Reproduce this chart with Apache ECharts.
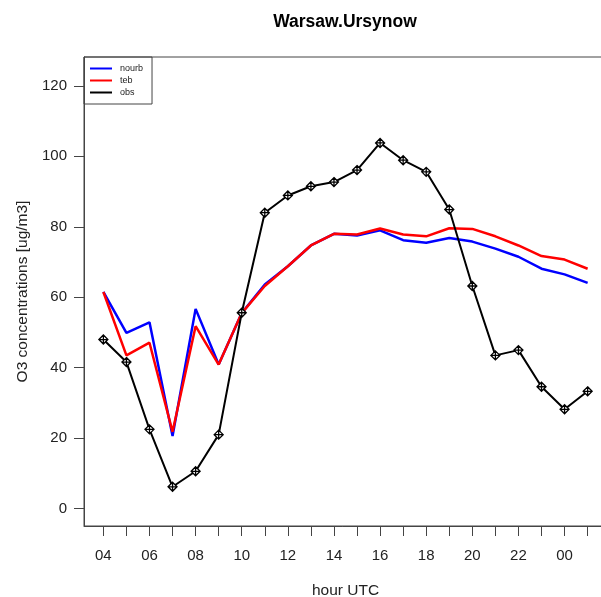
<!DOCTYPE html>
<html>
<head>
<meta charset="utf-8">
<script src="https://cdn.jsdelivr.net/npm/echarts@6/dist/echarts.min.js"></script>
<style>
  html, body { margin: 0; padding: 0; background: #fff; }
  #chart { width: 601px; height: 597px; }
</style>
</head>
<body>
<div id="chart"></div>
<script>
// hours UTC, one point per hour
const hours = ['04', '05', '06', '07', '08', '09', '10', '11', '12', '13', '14',
  '15', '16', '17', '18', '19', '20', '21', '22', '23', '00', '01']
const nourb = [61.5, 49.9, 52.9, 20.6, 56.7, 40.9, 55.5, 63.6, 68.8, 74.7, 78.0,
  77.5, 79.0, 76.2, 75.5, 76.8, 75.8, 73.8, 71.5, 68.1, 66.5, 64.1]
const teb = [61.5, 43.5, 47.1, 21.8, 51.8, 40.9, 55.5, 63.2, 68.8, 74.7, 78.0,
  77.8, 79.5, 77.8, 77.3, 79.6, 79.4, 77.3, 74.7, 71.7, 70.7, 68.1]
const obs = [48.0, 41.6, 22.5, 6.2, 10.6, 21.0, 55.6, 84.0, 88.9, 91.5, 92.7,
  96.1, 103.8, 98.9, 95.6, 84.9, 63.2, 43.5, 45.0, 34.6, 28.2, 33.3]
const yTicks = [0, 20, 40, 60, 80, 100, 120]

const chart = echarts.init(document.getElementById('chart'))
const font = 'Liberation Sans, Arial, sans-serif'
const pairs = arr => arr.map((v, i) => [i, v])
const lineIcon = 'path://M0,4L22,4L22,6L0,6Z'

chart.setOption({
  backgroundColor: '#fff',
  animation: false,
  textStyle: { fontFamily: font },
  title: {
    text: 'Warsaw.Ursynow',
    left: 340,
    textAlign: 'center',
    top: 8,
    textStyle: { fontSize: 17.5, fontWeight: 'bold', color: '#000', fontFamily: font }
  },
  legend: {
    orient: 'vertical',
    left: 84,
    top: 57,
    padding: [7, 9, 7, 6],
    itemGap: 3,
    itemWidth: 22,
    itemHeight: 9,
    borderColor: '#444',
    borderWidth: 1,
    textStyle: { fontSize: 9, color: '#222', padding: [0, 0, 0, 3] },
    data: [
      { name: 'nourb', icon: lineIcon },
      { name: 'teb', icon: lineIcon },
      { name: 'obs', icon: lineIcon, itemStyle: { color: '#000', borderWidth: 0 } }
    ]
  },
  grid: {
    left: 84,
    top: 57,
    width: 523,
    height: 469,
    outerBoundsMode: 'none',
    show: true,
    borderColor: '#444',
    borderWidth: 1
  },
  xAxis: {
    type: 'value',
    min: -0.84,
    max: 21.84,
    name: 'hour UTC',
    nameLocation: 'middle',
    nameGap: 57,
    nameTextStyle: { fontSize: 15.5, color: '#222' },
    splitLine: { show: false },
    axisLine: { show: true, onZero: false, lineStyle: { color: '#444' } },
    axisTick: {
      show: true,
      length: 10,
      lineStyle: { color: '#444' },
      customValues: hours.map((h, i) => i)
    },
    axisLabel: {
      fontSize: 15,
      color: '#222',
      margin: 22,
      customValues: hours.map((h, i) => i).filter(i => i % 2 === 0),
      formatter: v => hours[Math.round(v)]
    }
  },
  yAxis: {
    type: 'value',
    min: -4.93,
    max: 128.2,
    name: 'O3 concentrations [ug/m3]',
    nameLocation: 'middle',
    nameGap: 53,
    nameTextStyle: { fontSize: 15.5, color: '#222' },
    splitLine: { show: false },
    axisLine: { show: true, onZero: false, lineStyle: { color: '#444' } },
    axisTick: {
      show: true,
      length: 10,
      lineStyle: { color: '#444' },
      customValues: yTicks
    },
    axisLabel: {
      fontSize: 15,
      color: '#222',
      margin: 17,
      customValues: yTicks
    }
  },
  series: [
    {
      name: 'nourb',
      type: 'line',
      data: pairs(nourb),
      showSymbol: false,
      symbol: 'none',
      color: '#0000ff',
      lineStyle: { color: '#0000ff', width: 2.5 }
    },
    {
      name: 'teb',
      type: 'line',
      data: pairs(teb),
      showSymbol: false,
      symbol: 'none',
      color: '#ff0000',
      lineStyle: { color: '#ff0000', width: 2.5 }
    },
    {
      name: 'obs',
      type: 'line',
      data: pairs(obs),
      symbol: 'path://M0,-1L1,0L0,1L-1,0Z M0,-1L0,1 M-1,0L1,0',
      symbolSize: 9,
      color: '#000',
      itemStyle: { color: '#fff', borderColor: '#000', borderWidth: 1.3 },
      lineStyle: { color: '#000', width: 2 }
    }
  ]
})
</script>
</body>
</html>
